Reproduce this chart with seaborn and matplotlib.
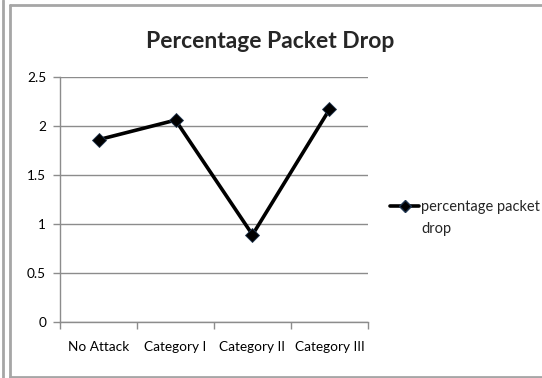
import matplotlib
matplotlib.use("Agg")
import matplotlib.pyplot as plt
from matplotlib.lines import Line2D
import seaborn as sns
import pandas as pd

categories = ["No Attack", "Category I", "Category II", "Category III"]
packet_drop = [1.86, 2.06, 0.89, 2.17]
series_name = "percentage packet drop"
y_ticks = [0, 0.5, 1, 1.5, 2, 2.5]
y_tick_labels = ["0", "0.5", "1", "1.5", "2", "2.5"]

df = pd.DataFrame({"category": categories, "value": packet_drop})
df["pos"] = range(len(categories))

sns.set_style("white")
plt.rcParams["font.family"] = ["Lato", "DejaVu Sans"]

fig = plt.figure(figsize=(5.42, 3.78), dpi=100)
ax = fig.add_axes([60 / 542, 1 - 322 / 378, 308 / 542, 245 / 378])

sns.lineplot(data=df, x="pos", y="value", ax=ax, color="black", linewidth=2.6,
             marker="D", markersize=7, markeredgecolor="#1f3550",
             markeredgewidth=0.6, label=series_name, legend=False)

ax.set_xlim(-0.5, len(categories) - 0.5)
ax.set_ylim(0, 2.5)
ax.set_yticks(y_ticks)
ax.set_yticklabels(y_tick_labels)
ax.set_xticks(range(len(categories)))
ax.set_xticklabels(categories)
ax.set_xticks([i - 0.5 for i in range(len(categories) + 1)], minor=True)
ax.set_xlabel("")
ax.set_ylabel("")

grid_color = "#8c8c8c"
ax.yaxis.grid(True, color=grid_color, linewidth=1)
ax.xaxis.grid(False)
for side in ["top", "right"]:
    ax.spines[side].set_visible(False)
for side in ["left", "bottom"]:
    ax.spines[side].set_color(grid_color)
    ax.spines[side].set_linewidth(1)

ax.tick_params(axis="x", which="major", length=0, pad=14, labelsize=9.8,
               colors="black")
ax.tick_params(axis="x", which="minor", length=5, width=1, color=grid_color,
               direction="out", bottom=True)
ax.tick_params(axis="y", which="major", length=5, width=1, color=grid_color,
               direction="out", left=True, pad=5, labelsize=9.8,
               labelcolor="black")

fig.text(270 / 542, 1 - 42 / 378, "Percentage Packet Drop", ha="center",
         va="center", fontsize=16.5, fontweight="bold")

handle = Line2D([], [], color="black", linewidth=2.6, marker="D",
                markersize=6, markeredgecolor="#1f3550")
leg = fig.legend([handle], ["percentage packet\ndrop"], loc="center left",
                 bbox_to_anchor=(390 / 542, 1 - 218 / 378), frameon=False,
                 fontsize=10.5, handlelength=2.0, handletextpad=0.15,
                 borderaxespad=0, borderpad=0)
for t in leg.get_texts():
    t.set_linespacing(1.65)
# keep the legend handle level with the first line of the wrapped label
for column in leg._legend_handle_box.get_children():
    for row in column.get_children():
        row.align = "top"

# Outer frame lines around the chart area
frame_color = "#a6a6a6"
fig.add_artist(Line2D([2.5 / 542, 2.5 / 542], [0, 1], color=frame_color,
                      linewidth=2, transform=fig.transFigure))
fig.add_artist(Line2D([10 / 542, 10 / 542], [1 - 376.5 / 378, 1 - 4.5 / 378],
                      color=frame_color, linewidth=2, transform=fig.transFigure))
fig.add_artist(Line2D([10 / 542, 1], [1 - 4.5 / 378, 1 - 4.5 / 378],
                      color=frame_color, linewidth=2, transform=fig.transFigure))
fig.add_artist(Line2D([10 / 542, 1], [1 - 376.5 / 378, 1 - 376.5 / 378],
                      color=frame_color, linewidth=2, transform=fig.transFigure))

fig.savefig("out.png", dpi=100)
